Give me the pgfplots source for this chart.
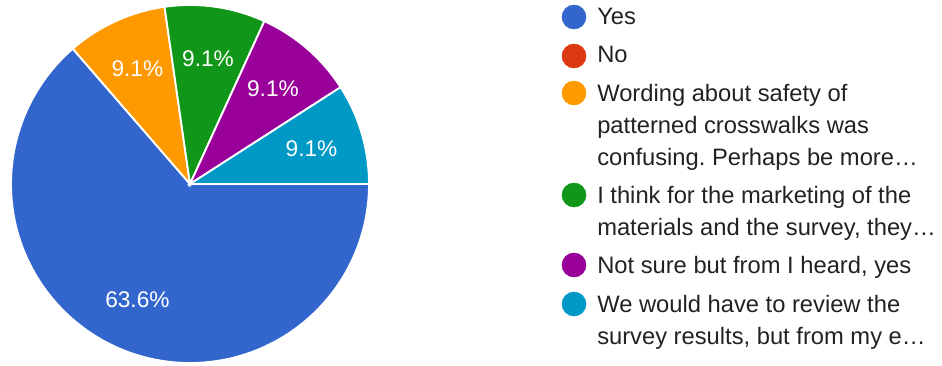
\documentclass[border=0pt]{standalone}
\usepackage{fontspec}
\setmainfont{Liberation Sans}
\usepackage{pgfplots}
\usepackage{pgfplotstable}
\usetikzlibrary{calc}
\pgfplotsset{compat=1.18}
\frenchspacing
\definecolor{cYes}{HTML}{3366CC}
\definecolor{cNo}{HTML}{DC3912}
\definecolor{cOrange}{HTML}{FF9900}
\definecolor{cGreen}{HTML}{109618}
\definecolor{cPurple}{HTML}{990099}
\definecolor{cTeal}{HTML}{0099C6}
\definecolor{ltext}{HTML}{222222}

% slice values (responses), in clockwise order starting at 3 o'clock
\pgfplotstableread{
value col
7 cYes
0 cNo
1 cOrange
1 cGreen
1 cPurple
1 cTeal
}\piedata

\begin{document}
\begin{tikzpicture}
\useasboundingbox (0,0) rectangle (706.5pt,273.75pt);
\begin{axis}[x=0.75pt,y=0.75pt,xmin=0,xmax=942,ymin=-365,ymax=0,
  hide axis,clip=false,/pgf/number format/assume math mode=true]
% legend markers
\addplot[only marks,mark=*,mark size=9pt,color=cYes] coordinates {(574,-17)};
\addplot[only marks,mark=*,mark size=9pt,color=cNo] coordinates {(574,-56)};
\addplot[only marks,mark=*,mark size=9pt,color=cOrange] coordinates {(574,-93)};
\addplot[only marks,mark=*,mark size=9pt,color=cGreen] coordinates {(574,-195)};
\addplot[only marks,mark=*,mark size=9pt,color=cPurple] coordinates {(574,-265)};
\addplot[only marks,mark=*,mark size=9pt,color=cTeal] coordinates {(574,-304)};
\pgfplotsextra{
  \pgfplotstablegetrowsof{\piedata}
  \pgfmathtruncatemacro{\N}{\pgfplotsretval-1}
  \gdef\total{0}
  \foreach \i in {0,...,\N}{
    \pgfplotstablegetelem{\i}{value}\of\piedata
    \pgfmathsetmacro{\tmp}{\total+\pgfplotsretval}
    \xdef\total{\tmp}
  }
  \gdef\cur{0}
  \foreach \i in {0,...,\N}{
    \pgfplotstablegetelem{\i}{value}\of\piedata \let\v\pgfplotsretval
    \pgfplotstablegetelem{\i}{col}\of\piedata \let\slicecol\pgfplotsretval
    \pgfmathsetmacro{\th}{360*\v/\total}
    \pgfmathsetmacro{\a}{\cur-\th}
    \pgfmathsetmacro{\mid}{\cur-\th/2}
    \pgfmathsetmacro{\pct}{100*\v/\total}
    \ifdim\th pt>0pt
      \fill[fill=\slicecol,draw=white,line width=1.4pt] (axis cs:190,-184) -- ++(\cur:134.25pt)
        arc[start angle=\cur,end angle=\a,radius=134.25pt] -- cycle;
      \node[text=white,font=\fontsize{17}{20}\selectfont] at ($(axis cs:190,-184)+(\mid:95pt)$)
        {\pgfmathprintnumber[fixed,precision=1,fixed zerofill,assume math mode=true]{\pct}\%};
    \fi
    \xdef\cur{\a}
  }
  \begin{scope}[every node/.style={anchor=base west,inner sep=0pt,text=ltext,font=\fontsize{17.8}{20}\selectfont}]
  \node at (axis cs:597,-25) {Yes};
  \node at (axis cs:597,-63) {No};
  \node at (axis cs:597,-101) {Wording about safety of};
  \node at (axis cs:597,-133) {patterned crosswalks was};
  \node at (axis cs:597,-165) {confusing. Perhaps be more\ldots};
  \node at (axis cs:597,-203) {I think for the marketing of the};
  \node at (axis cs:597,-235) {materials and the survey, they\ldots};
  \node at (axis cs:597,-273) {Not sure but from I heard, yes};
  \node at (axis cs:597,-312) {We would have to review the};
  \node at (axis cs:597,-344) {survey results, but from my e\ldots};
  \end{scope}
}
\end{axis}
\end{tikzpicture}
\end{document}
